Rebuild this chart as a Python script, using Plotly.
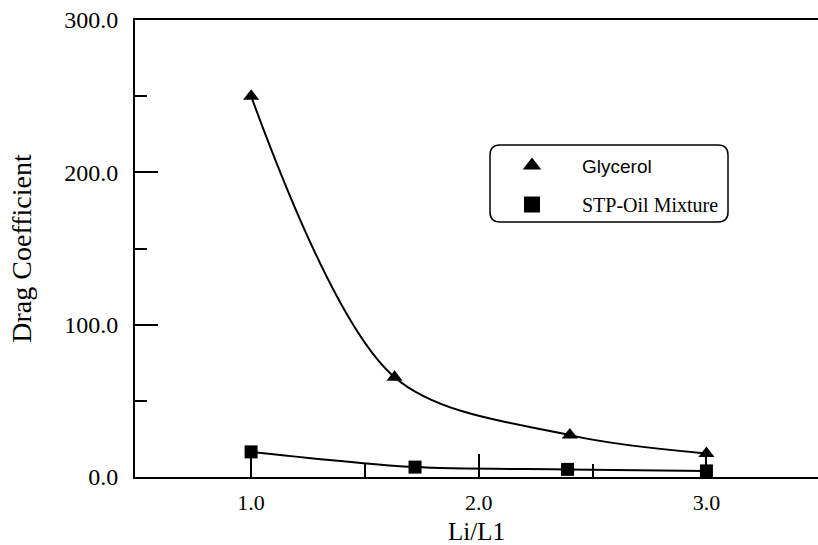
import plotly.graph_objects as go

# Data
glycerol_x = [1.0, 1.63, 2.4, 3.0]
glycerol_y = [250.0, 65.5, 27.5, 15.5]
stp_x = [1.0, 1.72, 2.39, 3.0]
stp_y = [16.5, 6.5, 5.0, 4.0]

series_names = ["Glycerol", "STP-Oil Mixture"]
x_tick_vals = [1.0, 2.0, 3.0]
x_tick_text = ["1.0", "2.0", "3.0"]
y_tick_vals = [0, 100, 200, 300]
y_tick_text = ["0.0", "100.0", "200.0", "300.0"]

SERIF = "Liberation Serif, Times New Roman, serif"
SANS = "Liberation Sans, Arial, sans-serif"

# plot geometry in pixels (for placing legend box)
L, T, W, H = 135, 20, 683, 457


def px_to_paper(px, py):
    return (px - L) / W, (T + H - py) / H


fig = go.Figure()

# fitted curves
fig.add_trace(go.Scatter(x=glycerol_x, y=glycerol_y, mode="lines",
                         line=dict(color="black", width=2, shape="spline", smoothing=0.92),
                         showlegend=False, hoverinfo="skip"))
fig.add_trace(go.Scatter(x=stp_x, y=stp_y, mode="lines",
                         line=dict(color="black", width=2, shape="spline", smoothing=0.8),
                         showlegend=False, hoverinfo="skip"))
# markers
fig.add_trace(go.Scatter(x=glycerol_x, y=glycerol_y, mode="markers",
                         marker=dict(symbol="triangle-up", size=14, color="black"),
                         showlegend=False))
fig.add_trace(go.Scatter(x=stp_x, y=stp_y, mode="markers",
                         marker=dict(symbol="square", size=13, color="black"),
                         showlegend=False))
# legend entries
fig.add_trace(go.Scatter(x=[None], y=[None], mode="markers",
                         name="<span style='font-family:Liberation Sans;font-size:19px'>" + series_names[0] + "</span>",
                         legendgroup="a",
                         marker=dict(symbol="triangle-up", size=16, color="black")))
fig.add_trace(go.Scatter(x=[None], y=[None], mode="markers", name=series_names[1],
                         legendgroup="b",
                         marker=dict(symbol="square", size=16, color="black")))

# rounded legend frame
x0, y0 = px_to_paper(490, 222)
x1, y1 = px_to_paper(728, 145)
r = 10
rx, ry = r / W, r / H
path = (f"M {x0+rx},{y0} L {x1-rx},{y0} Q {x1},{y0} {x1},{y0+ry} "
        f"L {x1},{y1-ry} Q {x1},{y1} {x1-rx},{y1} L {x0+rx},{y1} "
        f"Q {x0},{y1} {x0},{y1-ry} L {x0},{y0+ry} Q {x0},{y0} {x0+rx},{y0} Z")
fig.add_shape(type="path", path=path, xref="paper", yref="paper",
              line=dict(color="black", width=1.5))

lx, ly = px_to_paper(482, 146)

fig.update_layout(
    width=818, height=545,
    margin=dict(l=L, r=818 - L - W, t=T, b=545 - T - H),
    paper_bgcolor="white", plot_bgcolor="white",
    font=dict(family=SERIF, color="black", size=22),
    showlegend=True,
    legend=dict(x=lx, y=ly, xanchor="left", yanchor="top",
                bgcolor="rgba(0,0,0,0)", borderwidth=0,
                font=dict(family=SERIF, size=20, color="black"),
                itemwidth=90, tracegroupgap=10, traceorder="grouped"),
    xaxis=dict(range=[0.49, 3.49], showgrid=False, zeroline=False,
               showline=True, linecolor="black", linewidth=2, mirror=True,
               ticks="inside", ticklen=23, tickwidth=1.5, tickcolor="black",
               tickvals=x_tick_vals, ticktext=x_tick_text,
               tickfont=dict(family=SERIF, size=22), ticklabelstandoff=5,
               minor=dict(ticks="inside", ticklen=13, tickwidth=1.5, tickcolor="black",
                          tickvals=[1.5, 2.5]),
               title=dict(text="Li/L1", font=dict(family=SERIF, size=25), standoff=8)),
    yaxis=dict(range=[0, 300], showgrid=False, zeroline=False,
               showline=True, linecolor="black", linewidth=2,
               ticks="inside", ticklen=23, tickwidth=1.5, tickcolor="black",
               tickvals=y_tick_vals, ticktext=y_tick_text,
               tickfont=dict(family=SERIF, size=24), ticklabelstandoff=10,
               minor=dict(ticks="inside", ticklen=12, tickwidth=1.5, tickcolor="black",
                          tickvals=[50, 150, 250]),
               title=dict(text="Drag Coefficient", font=dict(family=SERIF, size=28), standoff=24)),
)

fig.write_html("out.html")
